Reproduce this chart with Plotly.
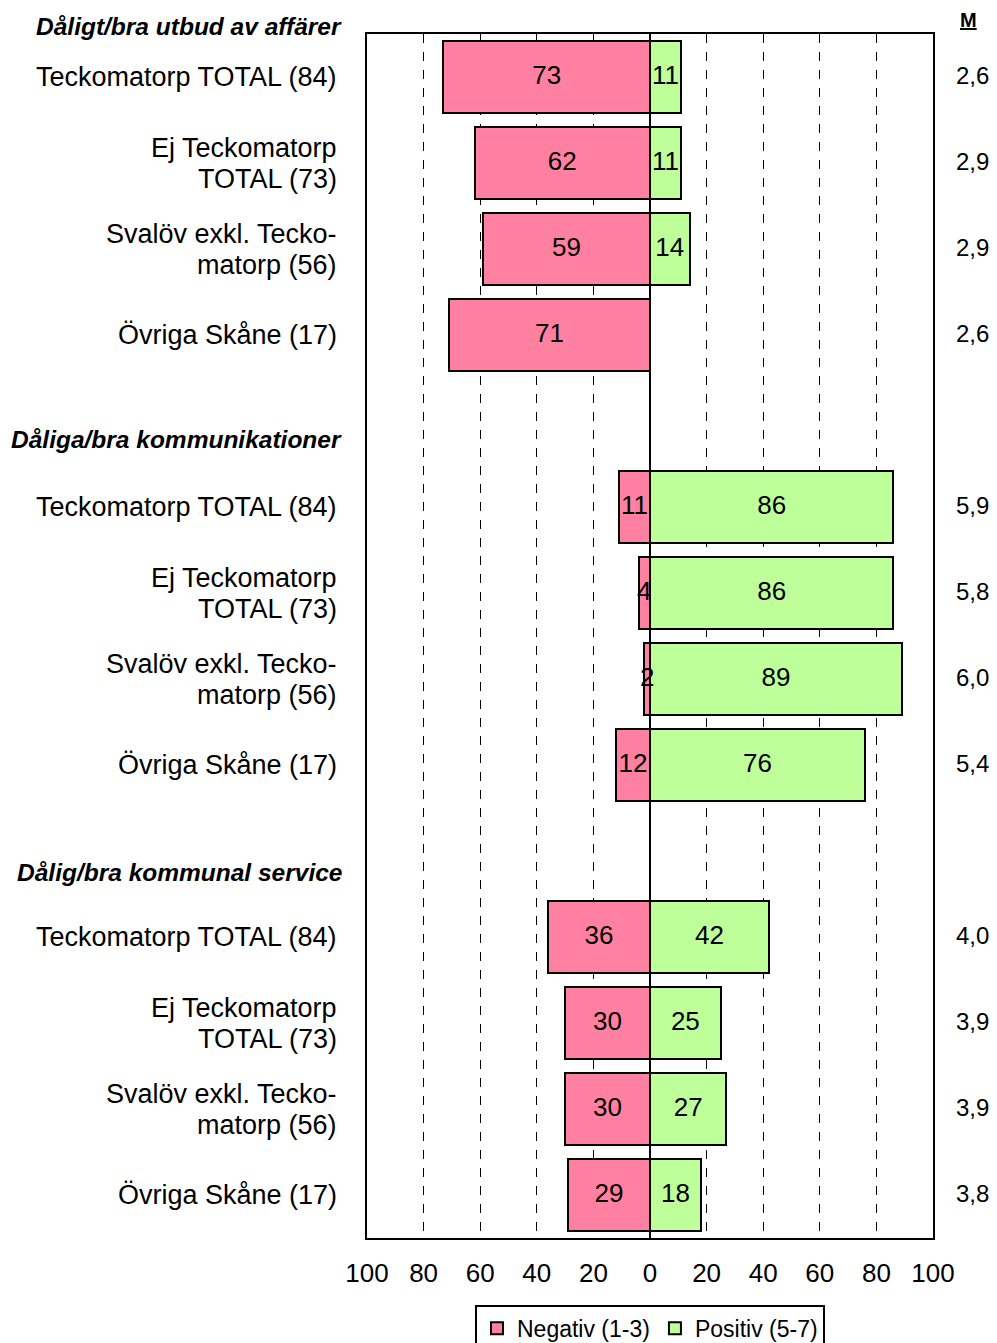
import plotly.graph_objects as go

# ---- data ----
groups = ["Dåligt/bra utbud av affärer", "Dåliga/bra kommunikationer", "Dålig/bra kommunal service"]
categories = ["Teckomatorp TOTAL (84)", "Ej Teckomatorp<br>TOTAL (73)",
              "Svalöv exkl. Tecko-<br>matorp (56)", "Övriga Skåne (17)"]
negativ = [[73, 62, 59, 71], [11, 4, 2, 12], [36, 30, 30, 29]]
positiv = [[11, 11, 14, None], [86, 86, 89, 76], [42, 25, 27, 18]]
medel = [["2,6", "2,9", "2,9", "2,6"], ["5,9", "5,8", "6,0", "5,4"], ["4,0", "3,9", "3,9", "3,8"]]
tick_vals = [-100, -80, -60, -40, -20, 0, 20, 40, 60, 80, 100]
tick_text = ["100", "80", "60", "40", "20", "0", "20", "40", "60", "80", "100"]

PINK = "#FF80A0"
GREEN = "#BFFF99"
FONT = "Liberation Sans, Arial, sans-serif"

# row positions: 4 rows per group + 1 empty slot between groups
ypos, neg_vals, pos_vals, cat_labels, m_labels = [], [], [], [], []
for g in range(len(groups)):
    for i in range(len(categories)):
        ypos.append(g * 5 + i)
        neg_vals.append(negativ[g][i])
        pos_vals.append(positiv[g][i])
        cat_labels.append(categories[i])
        m_labels.append(medel[g][i])

fig = go.Figure()
fig.add_trace(go.Bar(
    y=ypos, x=[-v for v in neg_vals], orientation="h", name="Negativ (1-3)",
    marker=dict(color=PINK, line=dict(color="black", width=2)), width=0.84,
))
fig.add_trace(go.Bar(
    y=ypos, x=pos_vals, orientation="h", name="Positiv (5-7)",
    marker=dict(color=GREEN, line=dict(color="black", width=2)), width=0.84,
))
# value labels centred in bars
fig.add_trace(go.Scatter(
    y=ypos, x=[-v / 2 for v in neg_vals], mode="text", text=[str(v) for v in neg_vals],
    textfont=dict(family=FONT, size=26, color="black"), showlegend=False, hoverinfo="skip",
))
py = [y for y, v in zip(ypos, pos_vals) if v]
pv = [v for v in pos_vals if v]
fig.add_trace(go.Scatter(
    y=py, x=[v / 2 for v in pv], mode="text", text=[str(v) for v in pv],
    textfont=dict(family=FONT, size=26, color="black"), showlegend=False, hoverinfo="skip",
))

annotations = []
for y, lab, m in zip(ypos, cat_labels, m_labels):
    lines = lab.split("<br>")
    n = len(lines)
    for k, line in enumerate(lines):
        shift = (n - 1) / 2 * 31 - k * 31
        annotations.append(dict(x=0, xref="paper", y=y, yref="y", text=line, showarrow=False,
                                xanchor="right", align="right", xshift=-28, yshift=shift,
                                font=dict(family=FONT, size=27, color="black")))
    annotations.append(dict(x=1.069, xref="paper", y=y, yref="y", text=m, showarrow=False,
                            xanchor="center", yshift=2,
                            font=dict(family=FONT, size=24, color="black")))
header_y = [1.0066, 0.6636, 0.3032]
for hy, g in zip(header_y, groups):
    annotations.append(dict(x=0, xref="paper", y=hy, yref="paper", text="<b><i>%s</i></b>" % g,
                            showarrow=False, xanchor="right", yanchor="middle", xshift=-23,
                            font=dict(family=FONT, size=24.5, color="black")))
annotations.append(dict(x=1.062, xref="paper", y=1.012, yref="paper", text="<b><u>M</u></b>",
                        showarrow=False, xanchor="center", yanchor="middle",
                        font=dict(family=FONT, size=20, color="black")))

fig.update_layout(
    width=989, height=1335,
    margin=dict(l=359, r=64, t=26, b=105, autoexpand=False),
    paper_bgcolor="white", plot_bgcolor="white",
    barmode="overlay",
    bargap=0,
    font=dict(family=FONT, size=24, color="black"),
    showlegend=True,
    legend=dict(orientation="h", x=0.5, xanchor="center", y=-0.0555, yanchor="top",
                bordercolor="black", borderwidth=2, font=dict(family=FONT, size=23),
                itemwidth=30, tracegroupgap=0),
    annotations=annotations,
)
fig.update_xaxes(range=[-100, 100], tickvals=tick_vals, ticktext=tick_text,
                 showgrid=True, gridcolor="black", gridwidth=1, griddash="dash",
                 zeroline=True, zerolinecolor="black", zerolinewidth=2,
                 showline=True, linecolor="black", linewidth=2, mirror=True,
                 ticks="", tickfont=dict(family=FONT, size=26), ticklabelstandoff=11,
                 fixedrange=True)
fig.update_yaxes(range=[13.5, -0.5], showticklabels=False, showgrid=False, zeroline=False,
                 showline=True, linecolor="black", linewidth=2, mirror=True, ticks="",
                 fixedrange=True)

fig.write_html("out.html")
